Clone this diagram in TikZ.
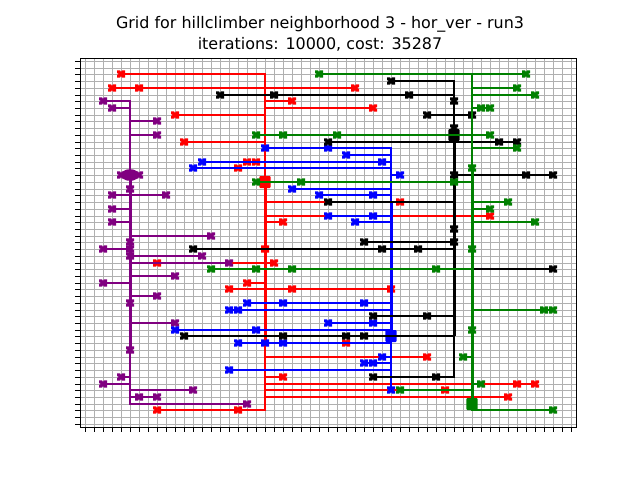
\documentclass[tikz,border=0pt]{standalone}
\usepackage{fontspec}
\setmainfont{DejaVu Sans}
\definecolor{gridgrey}{HTML}{B0B0B0}
\definecolor{netgreen}{HTML}{008000}
\definecolor{netpurple}{HTML}{800080}
\newcommand{\xmarkpath}{(0pt,1.4pt)--(0.7pt,2.8pt)--(3pt,2.8pt)--(3pt,0.7pt)--(1.6pt,0pt)--(3pt,-0.7pt)--(3pt,-2.8pt)--(0.7pt,-2.8pt)--(0pt,-1.4pt)--(-0.7pt,-2.8pt)--(-3pt,-2.8pt)--(-3pt,-0.7pt)--(-1.6pt,0pt)--(-3pt,0.7pt)--(-3pt,2.8pt)--(-0.7pt,2.8pt)--cycle}
% colour, rows r/a/b, markers x/y
\newcommand{\gridhoriz}[3]{%
  \foreach \r/\a/\b in {#2} \draw[netline,draw=#1] ({sx(\a)},{sy(\r)}) -- ({sx(\b)},{sy(\r)});
  \foreach \x/\y in {#3} \fill[#1,shift={({sx(\x)},{sy(\y)})}] \xmarkpath;
}
% colour, column, full span, thick span
\newcommand{\trunk}[6]{%
  \draw[netline,draw=#1] ({sx(#2)},{sy(#3)}) -- ({sx(#2)},{sy(#4)});
  \draw[thickline,draw=#1] ({sx(#2)+0.5},{sy(#5)}) -- ({sx(#2)+0.5},{sy(#6)});
}
\begin{document}
\begin{tikzpicture}[x=0.75pt,y=-0.75pt,
  declare function={sx(\i)=round(84.51+9.018*\i);sy(\j)=round(60.96+6.72*\j);},
  netline/.style={line width=1.6pt,line cap=rect},
  thickline/.style={line width=2.4pt},
  blockmark/.style={fill,inner sep=0pt,minimum width=8.6pt,minimum height=9pt,rounded corners=0.8pt},
  gridline/.style={draw=gridgrey,line width=0.85pt},
  tickline/.style={draw=black,line width=0.75pt},
  titletext/.style={font=\fontsize{11.95pt}{15pt}\selectfont,anchor=base}]
\useasboundingbox (0,0) rectangle (640,480);
% grid
\foreach \k in {0,...,54} {
  \draw[gridline] ({sx(\k)+0.5},58) -- ({sx(\k)+0.5},427);
  \draw[gridline] (80,{sy(\k)+0.5}) -- (576,{sy(\k)+0.5});
  \draw[tickline] ({sx(\k)+0.5},427) -- ({sx(\k)+0.5},432);
  \draw[tickline] (80,{sy(\k)+0.5}) -- (75,{sy(\k)+0.5});
}
% red net
\trunk{red}{20}{2}{52}{18}{42}
\gridhoriz{red}{2/4/20,4/3/30,6/20/23,7/20/32,8/10/20,12/11/20,15/18/20,16/17/20,21/20/35,23/20/45,24/20/22,30/8/21,33/18/20,34/16/34,42/20/29,44/20/38,47/20/22,48/20/50,49/20/40,50/20/47,52/8/20}
{4/2,3/4,6/4,30/4,23/6,32/7,10/8,11/12,18/15,19/15,17/16,35/21,45/23,22/24,8/30,21/30,18/33,16/34,23/34,34/34,29/42,38/44,22/47,48/48,50/48,40/49,47/50,8/52,17/52,20/28}
\node[blockmark,red] (redblock) at ({sx(20)},{sy(18)}) {};
% purple net
\trunk{netpurple}{5}{6}{51}{17}{43}
\gridhoriz{netpurple}{6/2/5,7/3/5,9/5/8,11/5/8,20/3/9,22/3/5,24/3/5,26/5/14,28/2/5,29/5/13,30/5/16,32/5/10,33/2/5,35/5/8,39/5/10,47/4/5,48/2/5,49/5/12,50/5/8,51/5/18}
{2/6,3/7,8/9,8/11,4/17,6/17,5/19,3/20,9/20,3/22,3/24,14/26,5/27,2/28,5/28,13/29,5/29,16/30,10/32,2/33,8/35,5/36,10/39,5/43,4/47,2/48,12/49,6/50,8/50,18/51}
\fill[netpurple] ({sx(5)},{sy(17)}) ellipse [x radius=6.6pt,y radius=4.4pt];
% blue net
\trunk{blue}{34}{13}{49}{21}{41}
\gridhoriz{blue}{13/20/34,14/29/34,15/13/34,16/12/34,17/34/35,19/23/34,20/26/34,23/27/34,24/30/34,36/18/34,37/16/34,39/27/34,40/10/34,42/17/34,44/33/34,45/31/34,46/16/34}
{20/13,27/13,29/14,13/15,33/15,12/16,35/17,23/19,26/20,32/20,27/23,32/23,30/24,18/36,22/36,31/36,16/37,17/37,27/39,32/39,10/40,19/40,17/42,20/42,22/42,33/44,31/45,32/45,16/46,34/49}
\node[blockmark,blue] (blueblock) at ({sx(34)},{sy(41)}) {};
% black net
\trunk{black}{41}{3}{47}{11}{41}
\gridhoriz{black}{3/34/41,5/15/41,8/38/43,12/27/48,17/41/52,21/27/41,27/31/41,28/12/41,31/41/52,38/32/41,41/11/41,47/32/41}
{34/3,15/5,21/5,36/5,41/6,38/8,43/8,41/10,27/12,46/12,48/12,41/17,49/17,52/17,27/21,41/25,31/27,41/27,12/28,33/28,37/28,52/31,32/38,38/38,11/41,22/41,29/41,31/41,32/47,39/47}
\node[blockmark,black] (blackblock) at ({sx(41)},{sy(11)}) {};
% green net
\trunk{netgreen}{43}{2}{52}{16}{52}
\gridhoriz{netgreen}{2/26/49,4/43/48,5/43/50,7/43/45,11/19/45,13/43/48,18/19/43,21/43/47,22/43/45,24/43/50,31/14/43,37/43/52,44/42/43,48/43/44,49/35/43,52/43/52}
{26/2,49/2,48/4,50/5,44/7,45/7,19/11,22/11,28/11,45/11,48/13,43/16,19/18,24/18,41/18,47/21,45/22,50/24,43/28,14/31,19/31,23/31,39/31,51/37,52/37,43/40,42/44,44/48,35/49,52/52}
\node[blockmark,netgreen] (greenblock) at ({sx(43)},{sy(51)}) {};
% axes frame
\draw[tickline] (80,58) rectangle (576,427);
% title
\node[titletext] (titleone) at (320,28.7) {Grid for hillclimber neighborhood 3 - hor\_ver - run3};
\node[titletext] (titletwo) at (320,49.5) {iterations: 10000, cost: 35287};
\end{tikzpicture}
\end{document}
